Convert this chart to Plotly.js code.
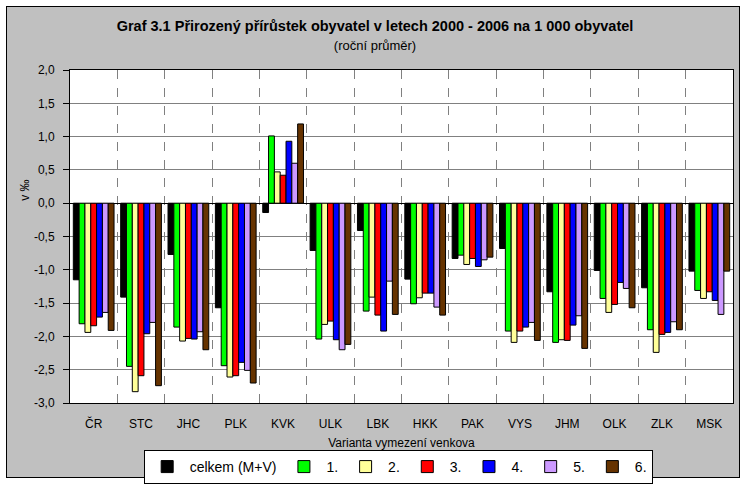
<!DOCTYPE html>
<html>
<head>
<meta charset="utf-8">
<script src="https://cdn.plot.ly/plotly-3.0.1.min.js"></script>
<style>
  html, body { margin: 0; padding: 0; background: #ffffff; }
  #frame { position: absolute; left: 6px; top: 6px; width: 732px; height: 470px; background: #c0c0c0; border: 1.5px solid #000; }
  #chart { position: absolute; left: 0; top: 0; width: 750px; height: 487px; }
</style>
</head>
<body>
<div id="frame"></div>
<div id="chart"></div>
<script>
const categories = ["ČR","STC","JHC","PLK","KVK","ULK","LBK","HKK","PAK","VYS","JHM","OLK","ZLK","MSK"];
const seriesNames = ["celkem (M+V)","1.","2.","3.","4.","5.","6."];
const celkem = [-1.15,-1.41,-0.77,-1.57,-0.14,-0.71,-0.41,-1.14,-0.83,-0.68,-1.33,-1.01,-1.27,-1.02];
const var1   = [-1.81,-2.45,-1.86,-2.44, 1.01,-2.04,-1.62,-1.51,-0.78,-1.92,-2.09,-1.43,-1.90,-1.31];
const var2   = [-1.94,-2.83,-2.07,-2.61, 0.47,-1.82,-1.41,-1.42,-0.92,-2.09,-2.05,-1.64,-2.24,-1.43];
const var3   = [-1.84,-2.59,-2.03,-2.59, 0.42,-1.77,-1.68,-1.35,-0.83,-1.92,-2.06,-1.52,-1.97,-1.33];
const var4   = [-1.71,-1.96,-2.04,-2.39, 0.93,-2.05,-1.92,-1.35,-0.95,-1.86,-1.83,-1.19,-1.94,-1.46];
const var5   = [-1.64,-1.79,-1.93,-2.51, 0.60,-2.20,-1.17,-1.56,-0.85,-1.79,-1.69,-1.28,-1.78,-1.67];
const var6   = [-1.91,-2.74,-2.20,-2.70, 1.19,-2.12,-1.67,-1.68,-0.81,-2.06,-2.18,-1.57,-1.90,-1.02];
const seriesValues = [celkem, var1, var2, var3, var4, var5, var6];
const seriesColors = ["#000000","#00ff00","#ffff99","#ff0000","#0000ff","#cc99ff","#663300"];
const yTickVals = [2,1.5,1,0.5,0,-0.5,-1,-1.5,-2,-2.5,-3];
const yTickLabels = ["2,0","1,5","1,0","0,5","0,0","-0,5","-1,0","-1,5","-2,0","-2,5","-3,0"];

const FONT = "Liberation Sans, Arial, sans-serif";

const traces = seriesValues.map((vals, i) => ({
  type: "bar",
  name: seriesNames[i],
  x: categories,
  y: vals,
  marker: { color: seriesColors[i], line: { color: "#000000", width: 1 } },
  hoverinfo: "x+y+name"
}));

const layout = {
  width: 750,
  height: 487,
  paper_bgcolor: "rgba(0,0,0,0)",
  plot_bgcolor: "#ffffff",
  font: { family: FONT, size: 12, color: "#000000" },
  margin: { l: 70, r: 17, t: 70, b: 84 },
  barmode: "group",
  bargap: 0.14,
  bargroupgap: 0,
  title: {
    text: "<b>Graf 3.1 Přirozený přírůstek obyvatel v letech 2000 - 2006 na 1 000 obyvatel</b><br><span style='font-size:13px'>(roční průměr)</span>",
    font: { family: FONT, size: 14.5, color: "#000000" },
    x: 0.5, xanchor: "center",
    y: 0.937, yanchor: "middle", yref: "container",
    automargin: false
  },
  xaxis: {
    type: "category",
    tickson: "boundaries",
    showgrid: true,
    gridcolor: "#808080",
    griddash: "dash",
    gridwidth: 1,
    showline: true,
    linecolor: "#000000",
    linewidth: 1,
    mirror: true,
    ticks: "",
    ticklabelstandoff: 10,
    tickfont: { family: FONT, size: 12, color: "#000000" },
    title: { text: "Varianta vymezení venkova", font: { family: FONT, size: 12, color: "#000000" }, standoff: 8 },
    zeroline: false,
    automargin: false,
    fixedrange: true
  },
  yaxis: {
    range: [-3, 2],
    tickvals: yTickVals,
    ticktext: yTickLabels,
    showgrid: true,
    gridcolor: "#808080",
    gridwidth: 1,
    zeroline: true,
    zerolinecolor: "#000000",
    zerolinewidth: 1,
    showline: true,
    linecolor: "#000000",
    linewidth: 1,
    mirror: true,
    ticks: "outside",
    ticklen: 6,
    tickcolor: "#000000",
    ticklabelstandoff: 6,
    tickfont: { family: FONT, size: 12, color: "#000000" },
    automargin: false,
    fixedrange: true
  },
  legend: {
    orientation: "h",
    xref: "paper", yref: "container",
    x: 0.495, xanchor: "center",
    y: 0.076, yanchor: "top",
    bgcolor: "#ffffff",
    bordercolor: "#000000",
    borderwidth: 1,
    itemwidth: 35,
    font: { family: FONT, size: 14, color: "#000000" },
    traceorder: "normal"
  },
  annotations: [{
    text: "v ‰",
    textangle: -90,
    xref: "paper", yref: "paper",
    x: -0.068, y: 0.64,
    xanchor: "center", yanchor: "middle",
    showarrow: false,
    font: { family: FONT, size: 12, color: "#000000" }
  }],
  showlegend: true
};

Plotly.newPlot("chart", traces, layout, { displayModeBar: false, staticPlot: true });
</script>
</body>
</html>
